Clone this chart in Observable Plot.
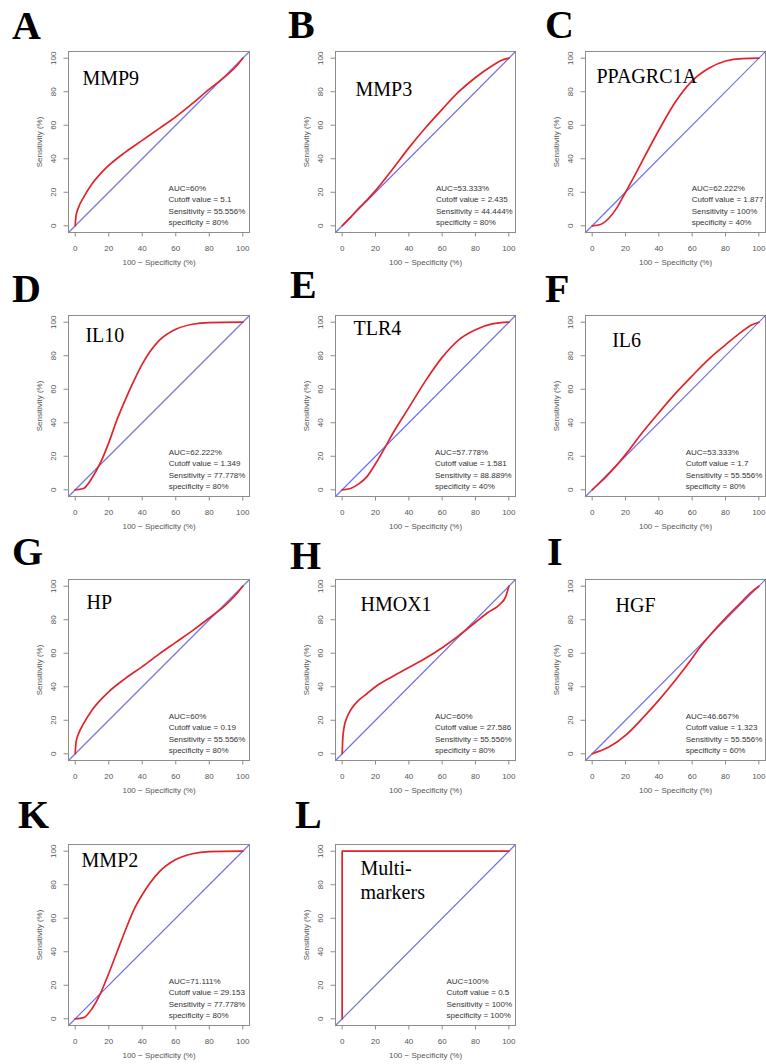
<!DOCTYPE html>
<html>
<head>
<meta charset="utf-8">
<script src="https://cdn.jsdelivr.net/npm/d3@7"></script>
<script src="https://cdn.jsdelivr.net/npm/@observablehq/plot@0.6"></script>
<style>
  html, body { margin: 0; padding: 0; background: #fff; overflow: hidden; }
  #fig { position: relative; width: 766px; height: 1064px; }
  .letter {
    position: absolute;
    font-family: "Liberation Serif", "Times New Roman", "DejaVu Serif", serif;
    font-weight: bold; font-size: 40px; line-height: 40px; color: #000;
  }
  .panel { position: absolute; }
</style>
</head>
<body>
<div id="fig"></div>
<script>
// Panel letters and marker names
const letters = ["A", "B", "C", "D", "E", "F", "G", "H", "I", "K", "L"];
const markers = ["MMP9", "MMP3", "PPAGRC1A", "IL10", "TLR4", "IL6", "HP", "HMOX1", "HGF", "MMP2", "Multi-\nmarkers"];

// Summary statistics printed in each panel
const auc = [60, 53.333, 62.222, 62.222, 57.778, 53.333, 60, 60, 46.667, 71.111, 100];
const cutoff = [5.1, 2.435, 1.877, 1.349, 1.581, 1.7, 0.19, 27.586, 1.323, 29.153, 0.5];
const sensitivity = [55.556, 44.444, 100, 77.778, 88.889, 55.556, 55.556, 55.556, 55.556, 77.778, 100];
const specificity = [80, 80, 40, 80, 40, 80, 80, 80, 60, 80, 100];

// Smoothed ROC curves: [100 - specificity, sensitivity] in percent
const rocMMP9 = [[0,0],[0.5,6],[2,11],[5,17],[10,25],[15,31],[20,36],[30,44],[40,51],[50,58],[60,65],[70,73],[80,81.5],[90,89.5],[95,94],[100,100]];
const rocMMP3 = [[0,0],[5,5],[10,10.5],[15,15.5],[20,21],[30,33.5],[40,46.5],[50,58.5],[60,69.5],[70,80],[80,88.5],[90,95.5],[95,98.5],[100,100]];
const rocPPAGRC1A = [[0,0],[5,0.8],[10,4.5],[15,11],[20,20],[25,29],[30,38.5],[40,57],[50,74],[60,86.5],[70,94],[80,98.3],[90,99.8],[100,100]];
const rocIL10 = [[0,0],[5,0.8],[10,7],[15,16],[20,28],[25,42],[30,54],[35,65],[40,75],[50,89],[60,95.8],[70,98.8],[80,99.8],[100,100]];
const rocTLR4 = [[0,0],[5,0.8],[10,3.5],[15,8],[20,15.5],[25,24],[30,33],[40,49],[50,65],[60,79],[70,89.5],[80,95.5],[90,99],[100,100]];
const rocIL6 = [[0,0],[5,4.5],[10,9.5],[15,15],[20,21],[30,34],[40,46],[50,57.5],[60,68],[70,78],[80,86.5],[90,94.5],[95,98],[100,100]];
const rocHP = [[0,0],[0.5,7],[2,12],[5,18],[10,26],[15,32],[20,37],[30,45],[40,52],[50,59.5],[60,66.5],[70,73.5],[80,81],[90,89],[95,94],[100,100]];
const rocHMOX1 = [[0,0],[0.3,8],[1,15],[3,22],[5,26],[10,32],[15,36],[20,40],[30,46],[40,51.5],[50,57],[60,63.3],[70,70.5],[80,78.5],[87,84],[95,89.5],[98,93.5],[100,100]];
const rocHGF = [[0,0],[10,4],[20,11],[30,21],[40,32],[50,44],[60,57],[65,64],[70,70],[80,81],[90,91],[95,96],[100,100]];
const rocMMP2 = [[0,0],[5,0.7],[10,6],[15,15],[20,27],[25,40],[30,53],[35,65],[40,74],[50,87.5],[60,95],[70,98.5],[80,99.7],[100,100]];
const rocMulti = [[0,0],[0,100],[100,100]];
const curves = [rocMMP9, rocMMP3, rocPPAGRC1A, rocIL10, rocTLR4, rocIL6, rocHP, rocHMOX1, rocHGF, rocMMP2, rocMulti];

const tickValues = [0, 20, 40, 60, 80, 100];
const domain = [-4, 104];

// Layout: plot-box position of each panel, letter position, label anchors (data units)
const colLeft = [68, 335, 585];
const colWidth = [181, 180, 180];
const rowTop = [51, 315, 579, 844];
const boxHeight = 181;
const letterPos = [[12,39],[288,38],[545,38],[12,302],[290,298],[545,302],[12,565],[290,569],[547,565],[18,828],[295,828]];
const namePos = [[4.3,84.3],[8,77.7],[2.6,85.1],[6.1,88.1],[6.8,92.1],[12,85.1],[6.7,86.5],[11,85.5],[14,84.9],[3.8,90.5],[11,71.6]];
const statsX = [55.7, 56.3, 59.7, 55.8, 55.7, 56.1, 55.8, 55.7, 56.1, 55.8, 62.6];

const fig = document.getElementById("fig");
const ml = 46, mr = 1, mt = 4, mb = 40;
const sans = "'Liberation Sans', Arial, Helvetica, sans-serif";
const serif = "'Liberation Serif', 'Times New Roman', serif";
// chance line y = x across the full plotting region
const diagonal = domain.map(v => ({x: v, y: v}));

letters.forEach((letter, i) => {
  const col = i % 3, row = Math.floor(i / 3);
  const w = colWidth[col];
  const statsText = [
    `AUC=${auc[i]}%`,
    `Cutoff value = ${cutoff[i]}`,
    `Sensitivity = ${sensitivity[i]}%`,
    `specificity = ${specificity[i]}%`
  ].join("\n");

  const svg = Plot.plot({
    width: ml + w + mr,
    height: mt + boxHeight + mb,
    marginLeft: ml, marginRight: mr, marginTop: mt, marginBottom: mb,
    x: {domain, ticks: tickValues},
    y: {domain, ticks: tickValues},
    style: {fontFamily: sans, fontSize: "8px", background: "transparent", overflow: "visible"},
    marks: [
      Plot.line(diagonal, {x: "x", y: "y", stroke: "#6060e4", strokeWidth: 1.2, strokeOpacity: 0.9}),
      Plot.line(curves[i], {
        x: d => d[0], y: d => d[1],
        curve: i === 10 ? "linear" : "monotone-x",
        stroke: "#e1232b", strokeWidth: 1.7
      }),
      Plot.frame({stroke: "#8c8c8c", strokeWidth: 1}),
      Plot.axisX(tickValues, {
        tickSize: 4.5, tickPadding: 8.5, stroke: "#8c8c8c", fill: "#555", fontSize: 8,
        label: "100 − Specificity (%)", labelAnchor: "center", labelArrow: "none", labelOffset: 32
      }),
      Plot.axisY(tickValues, {
        tickSize: 4.5, tickPadding: 8.5, tickRotate: -90, stroke: "#8c8c8c", fill: "#555", fontSize: 8,
        label: "Sensitivity (%)", labelAnchor: "center", labelArrow: "none", labelOffset: 32
      }),
      Plot.text([markers[i]], {
        x: namePos[i][0], y: namePos[i][1], text: d => d,
        textAnchor: "start", lineAnchor: "bottom", lineHeight: 1.215,
        fontFamily: serif, fontSize: 20, fill: "#000"
      }),
      Plot.text([statsText], {
        x: statsX[i], y: 0.5, text: d => d,
        textAnchor: "start", lineAnchor: "bottom", lineHeight: 1.42,
        fontFamily: sans, fontSize: 8, fill: "#333"
      })
    ]
  });
  svg.classList.add("panel");
  svg.style.left = (colLeft[col] - ml) + "px";
  svg.style.top = (rowTop[row] - mt) + "px";
  fig.appendChild(svg);

  const div = document.createElement("div");
  div.className = "letter";
  div.textContent = letter;
  div.style.left = letterPos[i][0] + "px";
  div.style.top = (letterPos[i][1] - 33.5) + "px";
  fig.appendChild(div);
});
</script>
</body>
</html>
